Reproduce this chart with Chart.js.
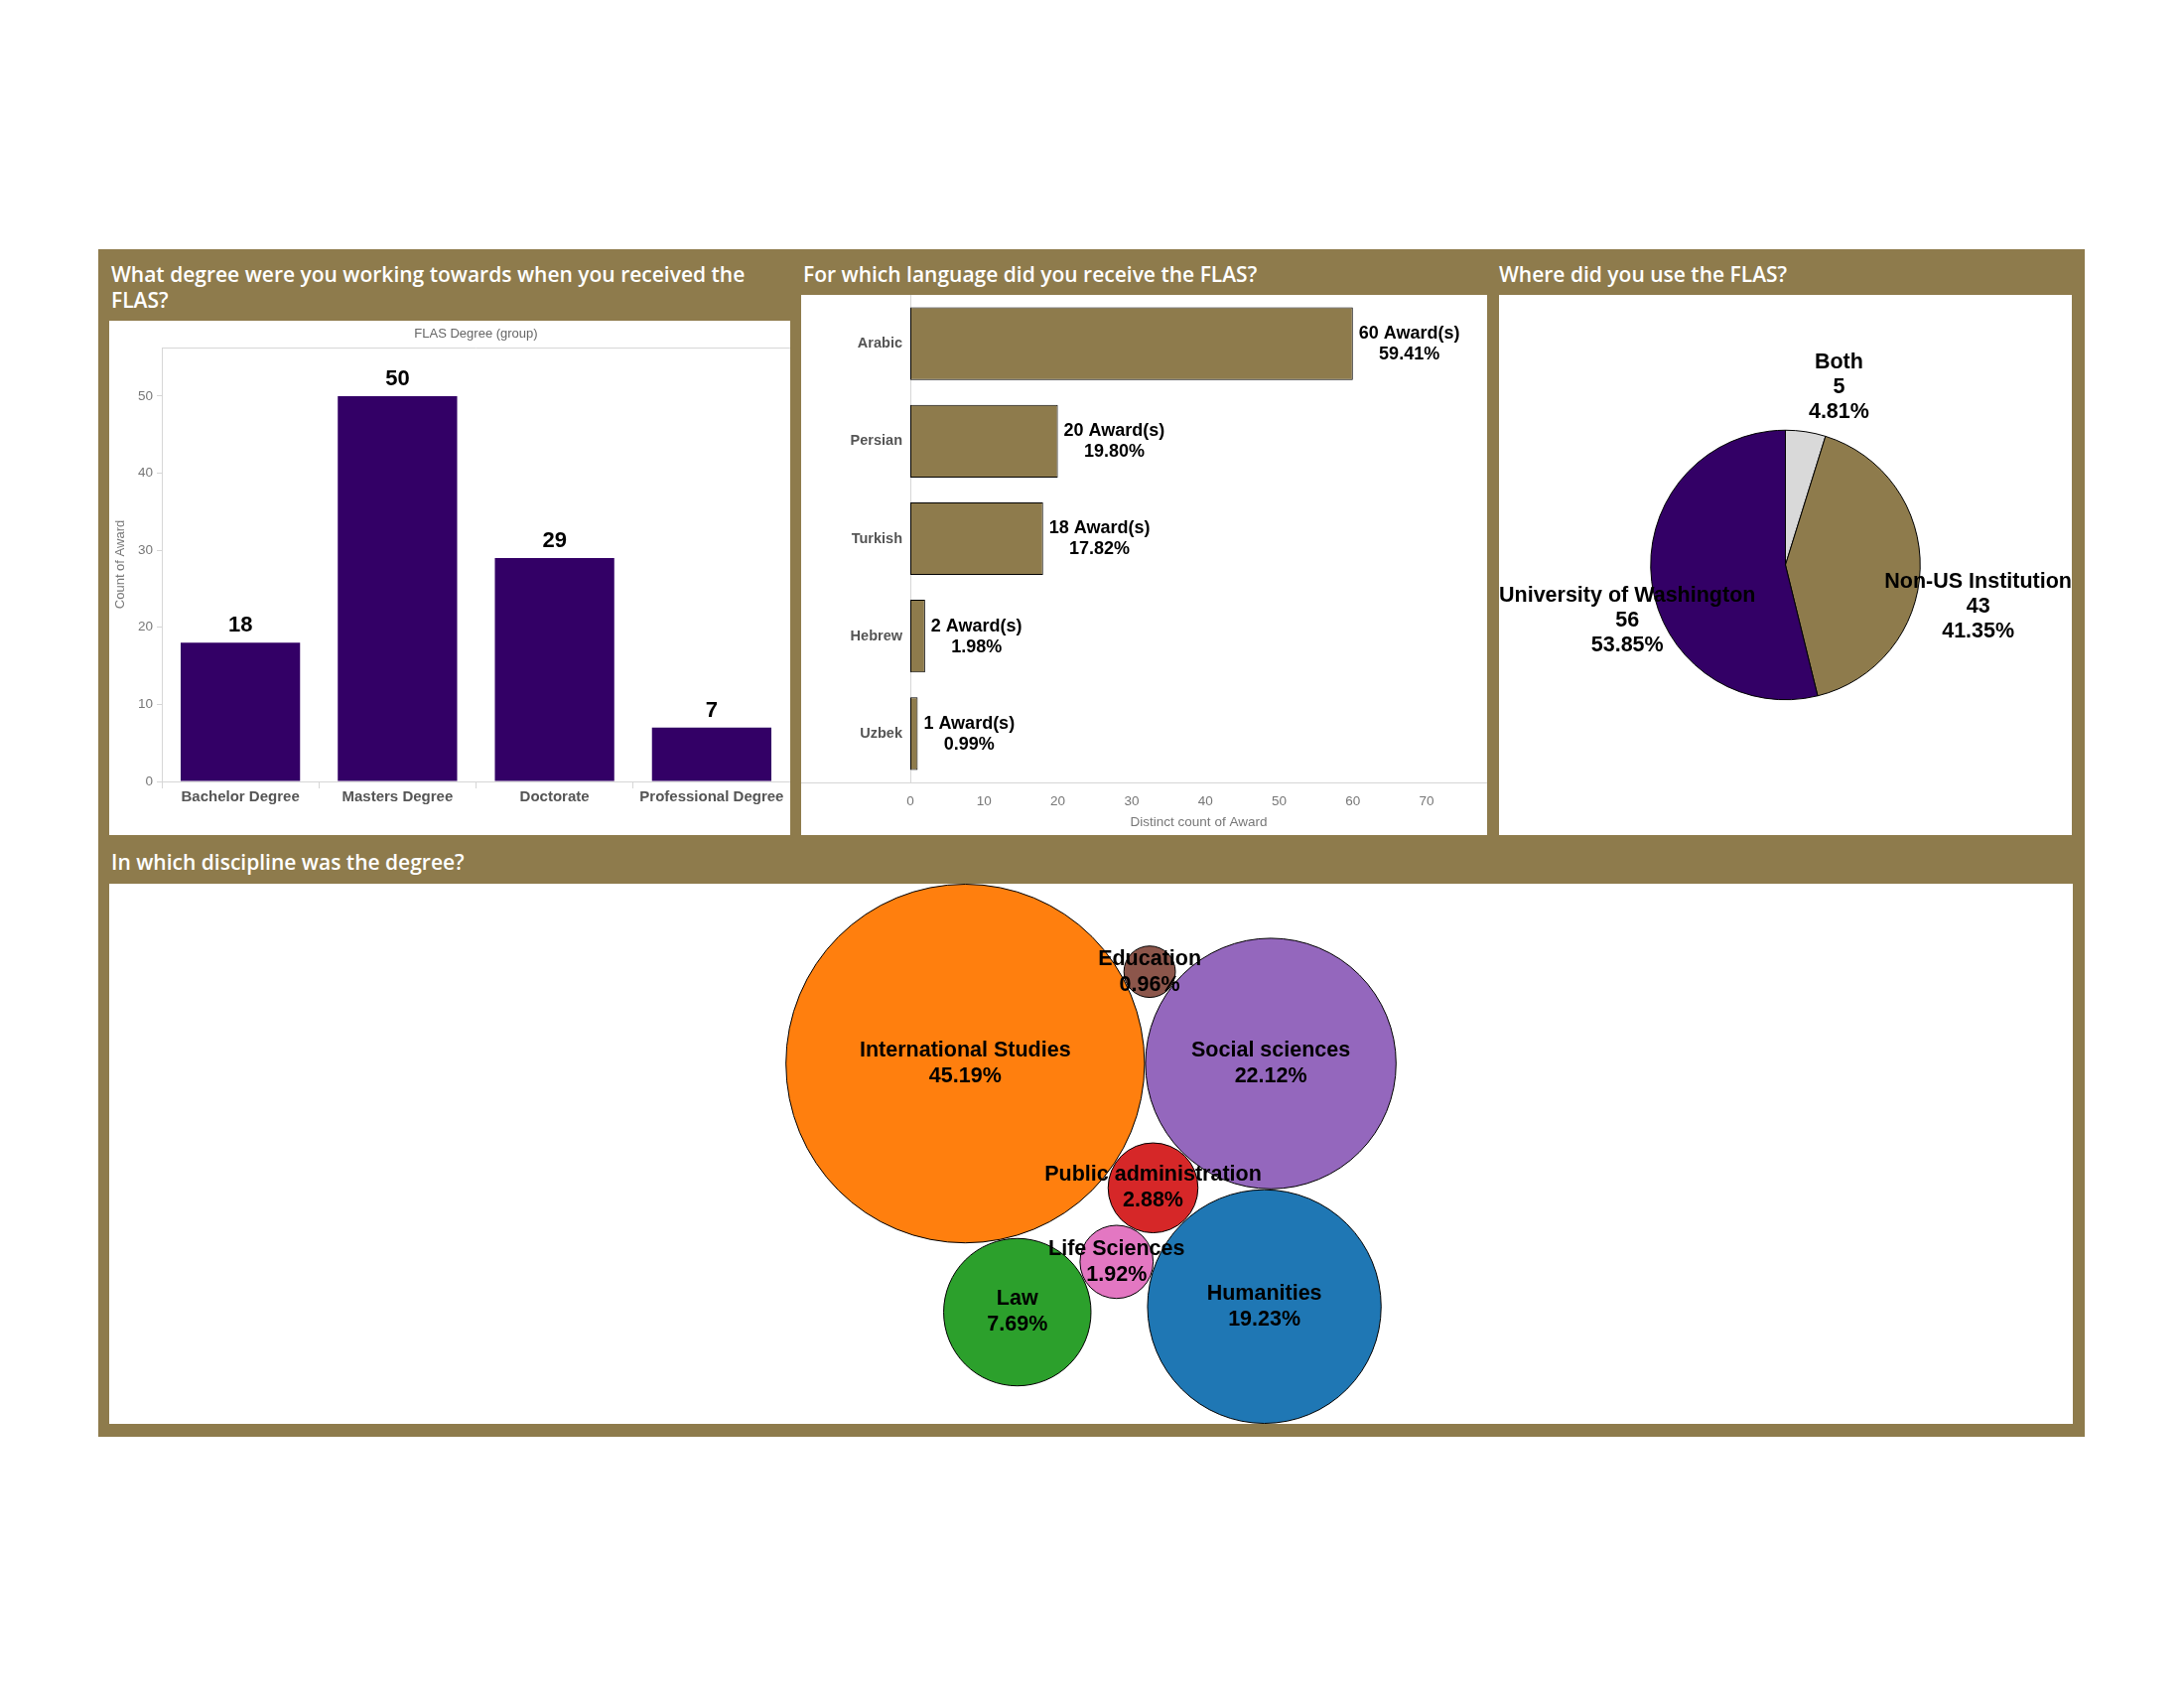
<!DOCTYPE html>
<html>
<head>
<meta charset="utf-8">
<script src="https://cdn.jsdelivr.net/npm/chart.js@4.4.1/dist/chart.umd.min.js"></script>
<style>
html,body{margin:0;padding:0;background:#fff;width:2200px;height:1700px;overflow:hidden}
#frame{position:absolute;left:99px;top:251px;width:2001px;height:1196px;background:#8e7b4c}
.title{position:absolute;color:#fff;font-family:"Open Sans",sans-serif;font-weight:600;font-size:21px;line-height:26px;white-space:nowrap}
.panel{position:absolute;background:#fff}
.panel canvas{display:block}
</style>
</head>
<body>
<div id="frame"></div>
<div class="title" style="left:112px;top:263px">What degree were you working towards when you received the<br>FLAS?</div>
<div class="title" style="left:809px;top:263px">For which language did you receive the FLAS?</div>
<div class="title" style="left:1510px;top:263px">Where did you use the FLAS?</div>
<div class="title" style="left:112px;top:855px">In which discipline was the degree?</div>

<div class="panel" style="left:110px;top:323px;width:686px;height:518px"><canvas id="degreeChart"></canvas></div>
<div class="panel" style="left:807px;top:297px;width:691px;height:544px"><canvas id="languageChart"></canvas></div>
<div class="panel" style="left:1510px;top:297px;width:577px;height:544px"><canvas id="placeChart"></canvas></div>
<div class="panel" id="bubblePanel" style="left:110px;top:890px;width:1978px;height:544px"><canvas id="disciplineChart"></canvas></div>

<script>
// ---------------- DATA ----------------
const degreeLabels = ['Bachelor Degree', 'Masters Degree', 'Doctorate', 'Professional Degree'];
const degreeCounts = [18, 50, 29, 7];

const languageLabels = ['Arabic', 'Persian', 'Turkish', 'Hebrew', 'Uzbek'];
const languageCounts = [60, 20, 18, 2, 1];
const languagePercents = ['59.41%', '19.80%', '17.82%', '1.98%', '0.99%'];

const placeLabels = ['Both', 'Non-US Institution', 'University of Washington'];
const placeCounts = [5, 43, 56];
const placePercents = ['4.81%', '41.35%', '53.85%'];

const disciplineLabels = ['International Studies', 'Social sciences', 'Humanities', 'Law', 'Public administration', 'Life Sciences', 'Education'];
const disciplineCounts = [47, 23, 20, 8, 3, 2, 1];
const disciplinePercents = ['45.19%', '22.12%', '19.23%', '7.69%', '2.88%', '1.92%', '0.96%'];

// ---------------- STYLE ----------------
const UW_PURPLE = '#330066';
const GOLD = '#8e7b4c';
const placeColors = ['#d9d9d9', GOLD, UW_PURPLE];
const disciplineColors = ['#ff7f0e', '#9467bd', '#1f77b4', '#2ca02c', '#d62728', '#e377c2', '#8c564b'];
const FONT = '"Liberation Sans", Arial, sans-serif';
Chart.defaults.font.family = FONT;
Chart.defaults.animation = false;
Chart.defaults.events = [];

// ---------------- CHART 1: degree ----------------
const degreeDecor = {
  id: 'degreeDecor',
  afterDatasetsDraw(chart) {
    const ctx = chart.ctx, ca = chart.chartArea;
    ctx.save();
    ctx.strokeStyle = '#d6d6d6'; ctx.lineWidth = 1;
    ctx.beginPath(); ctx.moveTo(ca.left, ca.top + 0.5); ctx.lineTo(ca.right, ca.top + 0.5); ctx.stroke();
    ctx.fillStyle = '#666'; ctx.font = '13px ' + FONT; ctx.textAlign = 'center'; ctx.textBaseline = 'middle';
    ctx.fillText('FLAS Degree (group)', (ca.left + ca.right) / 2, 13);
    ctx.fillStyle = '#000'; ctx.font = 'bold 22px ' + FONT; ctx.textBaseline = 'bottom';
    chart.getDatasetMeta(0).data.forEach((bar, i) => {
      ctx.fillText(String(degreeCounts[i]), bar.x, bar.y - 6);
    });
    ctx.restore();
  }
};
new Chart(document.getElementById('degreeChart'), {
  type: 'bar',
  data: { labels: degreeLabels, datasets: [{ data: degreeCounts, backgroundColor: UW_PURPLE, categoryPercentage: 0.76, barPercentage: 1 }] },
  options: {
    responsive: true, maintainAspectRatio: false, devicePixelRatio: 1,
    layout: { padding: { top: 27, right: 0, left: 0, bottom: 0 } },
    plugins: { legend: { display: false }, tooltip: { enabled: false } },
    scales: {
      x: {
        grid: { offset: true, drawOnChartArea: false, tickLength: 7, color: '#d6d6d6' },
        border: { color: '#d6d6d6' },
        ticks: { color: '#555', font: { weight: 'bold', size: 15 }, padding: 0, maxRotation: 0, autoSkip: false },
        afterFit(s) { s.height = 54; s.paddingLeft = 0; s.paddingRight = 0; }
      },
      y: {
        min: 0, max: 56.3,
        ticks: { stepSize: 10, includeBounds: false, color: '#777', font: { size: 13.5 }, padding: 4 },
        grid: { drawOnChartArea: false, tickLength: 5, color: '#d6d6d6' },
        border: { color: '#d6d6d6' },
        title: { display: true, text: 'Count of Award', color: '#777', font: { size: 13 }, padding: { top: 4, bottom: 0 } },
        afterFit(s) { s.width = 53; s.paddingTop = 0; s.paddingBottom = 0; }
      }
    }
  },
  plugins: [degreeDecor]
});

// ---------------- CHART 2: language ----------------
const languageDecor = {
  id: 'languageDecor',
  afterDatasetsDraw(chart) {
    const ctx = chart.ctx, ca = chart.chartArea;
    ctx.save();
    ctx.strokeStyle = '#d6d6d6'; ctx.lineWidth = 1;
    ctx.beginPath(); ctx.moveTo(0, ca.bottom + 0.5); ctx.lineTo(chart.width, ca.bottom + 0.5); ctx.stroke();
    ctx.fillStyle = '#000'; ctx.font = 'bold 18px ' + FONT; ctx.textAlign = 'center'; ctx.textBaseline = 'middle';
    chart.getDatasetMeta(0).data.forEach((bar, i) => {
      const l1 = languageCounts[i] + ' Award(s)', l2 = languagePercents[i];
      const w = Math.max(ctx.measureText(l1).width, ctx.measureText(l2).width);
      const cx = bar.x + 6 + w / 2;
      ctx.fillText(l1, cx, bar.y - 10);
      ctx.fillText(l2, cx, bar.y + 11);
    });
    ctx.restore();
  }
};
new Chart(document.getElementById('languageChart'), {
  type: 'bar',
  data: { labels: languageLabels, datasets: [{ data: languageCounts, backgroundColor: GOLD, borderColor: '#000', borderWidth: 1, borderSkipped: false, categoryPercentage: 0.745, barPercentage: 1 }] },
  options: {
    indexAxis: 'y',
    responsive: true, maintainAspectRatio: false, devicePixelRatio: 1,
    layout: { padding: 0 },
    plugins: { legend: { display: false }, tooltip: { enabled: false } },
    scales: {
      y: {
        grid: { display: false, drawTicks: false },
        border: { color: '#d6d6d6' },
        ticks: { color: '#555', font: { weight: 'bold', size: 14.5 }, padding: 8 },
        afterFit(s) { s.width = 110; s.paddingTop = 0; s.paddingBottom = 0; }
      },
      x: {
        min: 0, max: 78.2,
        grid: { display: false, drawTicks: false },
        border: { color: '#d6d6d6' },
        ticks: { stepSize: 10, includeBounds: false, color: '#777', font: { size: 13.5 }, padding: 11 },
        title: { display: true, text: 'Distinct count of Award', color: '#777', font: { size: 13.5 }, padding: { top: 0, bottom: 5 } },
        afterFit(s) { s.height = 53; s.paddingLeft = 0; s.paddingRight = 0; }
      }
    }
  },
  plugins: [languageDecor]
});

// ---------------- CHART 3: place (pie) ----------------
const pieLabels = {
  id: 'pieLabels',
  afterDatasetsDraw(chart) {
    const ctx = chart.ctx, ca = chart.chartArea;
    ctx.save();
    ctx.fillStyle = '#000'; ctx.font = 'bold 21.5px ' + FONT; ctx.textAlign = 'center'; ctx.textBaseline = 'middle';
    const lh = 25;
    chart.getDatasetMeta(0).data.forEach((arc, i) => {
      const mid = (arc.startAngle + arc.endAngle) / 2;
      const R = arc.outerRadius + 20;
      const ax = arc.x + Math.cos(mid) * R, ay = arc.y + Math.sin(mid) * R;
      const lines = [placeLabels[i], String(placeCounts[i]), placePercents[i]];
      const w = Math.max(...lines.map(l => ctx.measureText(l).width));
      let left = Math.cos(mid) >= 0 ? ax : ax - w;
      left = Math.max(ca.left, Math.min(ca.right - w, left));
      const cx = left + w / 2;
      let firstY;
      if (-Math.sin(mid) > 0.7) firstY = ay - lh * (lines.length - 1);
      else if (Math.sin(mid) > 0.7) firstY = ay + lh / 2;
      else firstY = ay + 12;
      lines.forEach((l, j) => ctx.fillText(l, cx, firstY + j * lh));
    });
    ctx.restore();
  }
};
new Chart(document.getElementById('placeChart'), {
  type: 'pie',
  data: { labels: placeLabels, datasets: [{ data: placeCounts, backgroundColor: placeColors, borderColor: '#000', borderWidth: 1, radius: '50%' }] },
  options: {
    responsive: true, maintainAspectRatio: false, devicePixelRatio: 1,
    layout: { padding: 0 },
    plugins: { legend: { display: false }, tooltip: { enabled: false } }
  },
  plugins: [pieLabels]
});

// ---------------- CHART 4: discipline (packed bubbles) ----------------
// Packing: radius in layout units = sqrt(count); each bubble is placed tangent to
// two bubbles already placed (indices), on side +1 / -1 of the line joining them.
const packSteps = [
  { i: 0 },                            // International Studies: anchor
  { i: 1, rightOf: 0 },                // Social sciences: tangent to the right
  { i: 4, between: [0, 1], side: 1 },  // Public administration
  { i: 6, between: [0, 1], side: -1 }, // Education
  { i: 2, between: [1, 4], side: -1 }, // Humanities
  { i: 5, between: [4, 2], side: 1 },  // Life Sciences
  { i: 3, between: [0, 5], side: 1 }   // Law
];
function packBubbles(counts) {
  const r = counts.map(c => Math.sqrt(c));
  const pos = [];
  packSteps.forEach(st => {
    if (st.rightOf === undefined && !st.between) { pos[st.i] = { x: 0, y: 0 }; return; }
    if (st.rightOf !== undefined) { const a = pos[st.rightOf]; pos[st.i] = { x: a.x + r[st.rightOf] + r[st.i], y: a.y }; return; }
    const [ia, ib] = st.between, A = pos[ia], B = pos[ib];
    const dA = r[ia] + r[st.i], dB = r[ib] + r[st.i];
    const dx = B.x - A.x, dy = B.y - A.y, d = Math.hypot(dx, dy);
    const ux = dx / d, uy = dy / d, px = -uy, py = ux;
    const a = (dA * dA - dB * dB + d * d) / (2 * d);
    const h = Math.sqrt(Math.max(0, dA * dA - a * a));
    pos[st.i] = { x: A.x + a * ux + st.side * h * px, y: A.y + a * uy + st.side * h * py };
  });
  return { pos, r };
}
const packed = packBubbles(disciplineCounts);
let minX = Infinity, maxX = -Infinity, minY = Infinity, maxY = -Infinity;
packed.pos.forEach((p, i) => {
  minX = Math.min(minX, p.x - packed.r[i]); maxX = Math.max(maxX, p.x + packed.r[i]);
  minY = Math.min(minY, p.y - packed.r[i]); maxY = Math.max(maxY, p.y + packed.r[i]);
});
const panel = document.getElementById('bubblePanel');
const unitsPerPx = (maxY - minY) / panel.clientHeight;
const halfW = panel.clientWidth * unitsPerPx / 2, cxU = (minX + maxX) / 2;

const bubbleLabels = {
  id: 'bubbleLabels',
  afterDatasetsDraw(chart) {
    const ctx = chart.ctx;
    ctx.save();
    ctx.fillStyle = '#000'; ctx.font = 'bold 21.5px ' + FONT; ctx.textAlign = 'center'; ctx.textBaseline = 'middle';
    chart.getDatasetMeta(0).data.forEach((pt, i) => {
      ctx.fillText(disciplineLabels[i], pt.x, pt.y - 13);
      ctx.fillText(disciplinePercents[i], pt.x, pt.y + 13);
    });
    ctx.restore();
  }
};
new Chart(document.getElementById('disciplineChart'), {
  type: 'bubble',
  data: {
    labels: disciplineLabels,
    datasets: [{
      // r: bubble radius in pixels, proportional to sqrt(count) with the same unit as the x/y scales
      data: disciplineCounts.map((c, i) => ({ x: packed.pos[i].x, y: packed.pos[i].y, r: packed.r[i] / unitsPerPx - 0.5 })),
      backgroundColor: disciplineColors,
      borderColor: '#000', borderWidth: 1, clip: false
    }]
  },
  options: {
    responsive: true, maintainAspectRatio: false, devicePixelRatio: 1,
    layout: { padding: 0, autoPadding: false },
    plugins: { legend: { display: false }, tooltip: { enabled: false } },
    scales: {
      x: { type: 'linear', display: false, min: cxU - halfW, max: cxU + halfW },
      y: { type: 'linear', display: false, min: minY, max: maxY, reverse: true }
    }
  },
  plugins: [bubbleLabels]
});
</script>
</body>
</html>
